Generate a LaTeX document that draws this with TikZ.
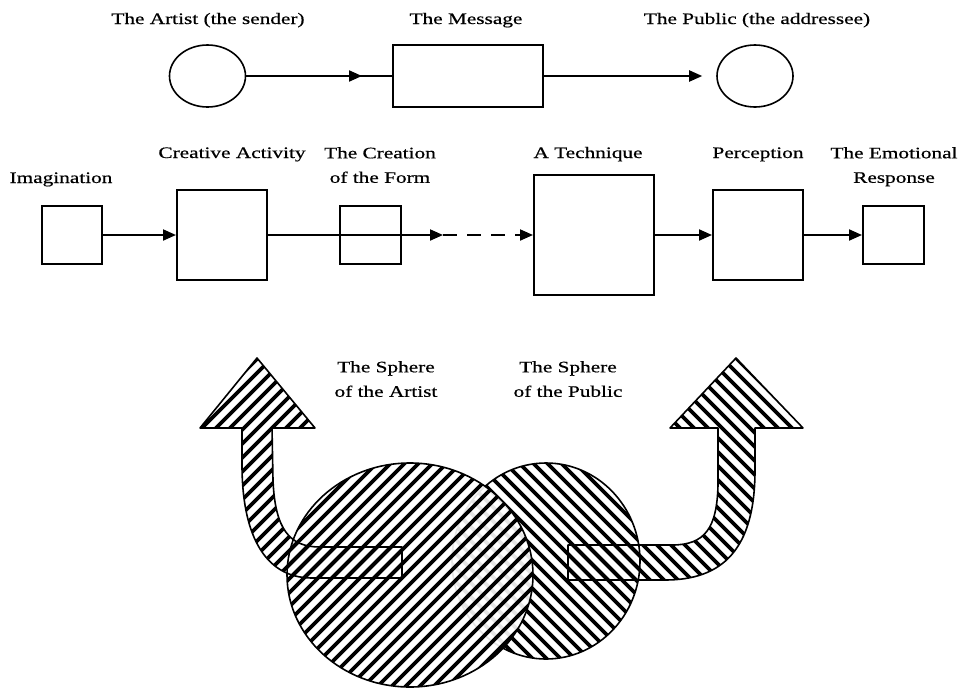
\documentclass[tikz,border=0pt]{standalone}
\usepackage{fontspec}
\setmainfont[FakeStretch=1.33,FakeBold=0.6]{Liberation Serif}
\usetikzlibrary{arrows.meta,shapes.geometric,calc}
\newcommand\myhatchup{\foreach \k in {36,...,112} \draw[hatch] ({14*\k},0) -- ++(-800,800);}
\newcommand\myhatchdown{\foreach \k in {-42,...,38} \draw[hatch] ({14*\k},0) -- ++(800,800);}
\begin{document}
\begin{tikzpicture}[x=1pt,y=-1pt,
  box/.style={draw,line width=2pt,rectangle,inner sep=0pt},
  ell/.style={draw,line width=1.6pt,ellipse,inner sep=0pt,minimum width=76pt,minimum height=62pt},
  conn/.style={line width=2pt},
  arr/.style={line width=2pt,-{Triangle[length=13pt,width=11pt]}},
  lab/.style={font=\fontsize{16pt}{24.5pt}\selectfont,inner sep=0pt,align=center},
  hatch/.style={line width=3.7pt},
  outline/.style={line width=1.6pt,line join=round}]
\useasboundingbox (0,0) rectangle (960,691);

% ---------- top row ----------
\node[ell] (artist) at (207.5,76) {};
\node[box,minimum width=150pt,minimum height=62pt] (msg) at (468,76) {};
\node[ell] (public) at (755,76) {};
\draw[conn] (artist.east) -- (msg.west);
\draw[arr] (artist.east) -- ([xshift=-30pt]msg.west);
\draw[arr] (msg.east) -- ([xshift=-14pt]public.west);
\node[lab,anchor=base] (lartist) at (208,24) {The Artist (the sender)};
\node[lab,anchor=base] (lmsg) at (466,24) {The Message};
\node[lab,anchor=base] (lpublic) at (757,24) {The Public (the addressee)};

% ---------- second row ----------
\node[box,minimum width=60pt,minimum height=58pt] (imag) at (72,235) {};
\node[box,minimum width=90pt,minimum height=90pt] (creat) at (222,235) {};
\node[box,minimum width=61pt,minimum height=58pt] (form) at (370.5,235) {};
\node[box,minimum width=120pt,minimum height=120pt] (tech) at (594,235) {};
\node[box,minimum width=90pt,minimum height=90pt] (perc) at (758,235) {};
\node[box,minimum width=61pt,minimum height=58pt] (emo) at (893.5,235) {};
\coordinate (dashstart) at (443,235);
\draw[arr] (imag) -- (creat);
\draw[arr] (creat) -- (dashstart);
\draw[arr,dash pattern=on 14pt off 10pt] (dashstart) -- (tech);
\draw[arr] (tech) -- (perc);
\draw[arr] (perc) -- (emo);

\node[lab,anchor=base] (limag) at (61,183) {Imagination};
\node[lab,anchor=base] (lcreat) at (232,158) {Creative Activity};
\node[lab,anchor=north] (lform) at (380,147) {The Creation\\of the Form};
\node[lab,anchor=base] (ltech) at (588,158) {A Technique};
\node[lab,anchor=base] (lperc) at (758,158) {Perception};
\node[lab,anchor=north] (lemo) at (894,147) {The Emotional\\Response};

% ---------- spheres ----------
% right circle (sphere of the public)
\begin{scope}
  \clip (546,561) ellipse [x radius=94pt, y radius=98pt];
  \myhatchdown
\end{scope}
\draw[outline] (546,561) ellipse [x radius=94pt, y radius=98pt];

% left circle (sphere of the artist)
\fill[white,opacity=0.9] (410,575) ellipse [x radius=123pt, y radius=112pt];
\begin{scope}
  \clip (410,575) ellipse [x radius=123pt, y radius=112pt];
  \myhatchup
\end{scope}
\draw[outline] (410,575) ellipse [x radius=123pt, y radius=112pt];

% left bent arrow
\begin{scope}
  \clip (257,358) -- (315,428) -- (272,428) -- (273,480)
     .. controls (275,530) and (290,547) .. (320,547) -- (402,547) -- (402,578) -- (312,578)
     .. controls (262,578) and (242,530) .. (242,465) -- (242,428) -- (200,428) -- cycle;
  \myhatchup
\end{scope}
\draw[outline] (257,358) -- (315,428) -- (272,428) -- (273,480)
     .. controls (275,530) and (290,547) .. (320,547) -- (402,547) -- (402,578) -- (312,578)
     .. controls (262,578) and (242,530) .. (242,465) -- (242,428) -- (200,428) -- cycle;

% right bent arrow
\begin{scope}
  \clip (736,358) -- (803,428) -- (755,428) -- (755,470)
     .. controls (755,550) and (722,580) .. (665,580) -- (568,580) -- (568,545) -- (672,545)
     .. controls (705,545) and (717,528) .. (718,485) -- (718,428) -- (670,428) -- cycle;
  \myhatchdown
\end{scope}
\draw[outline] (736,358) -- (803,428) -- (755,428) -- (755,470)
     .. controls (755,550) and (722,580) .. (665,580) -- (568,580) -- (568,545) -- (672,545)
     .. controls (705,545) and (717,528) .. (718,485) -- (718,428) -- (670,428) -- cycle;

\node[lab,anchor=north] (lsa) at (386,361) {The Sphere\\of the Artist};
\node[lab,anchor=north] (lsp) at (568,361) {The Sphere\\of the Public};
\end{tikzpicture}
\end{document}
